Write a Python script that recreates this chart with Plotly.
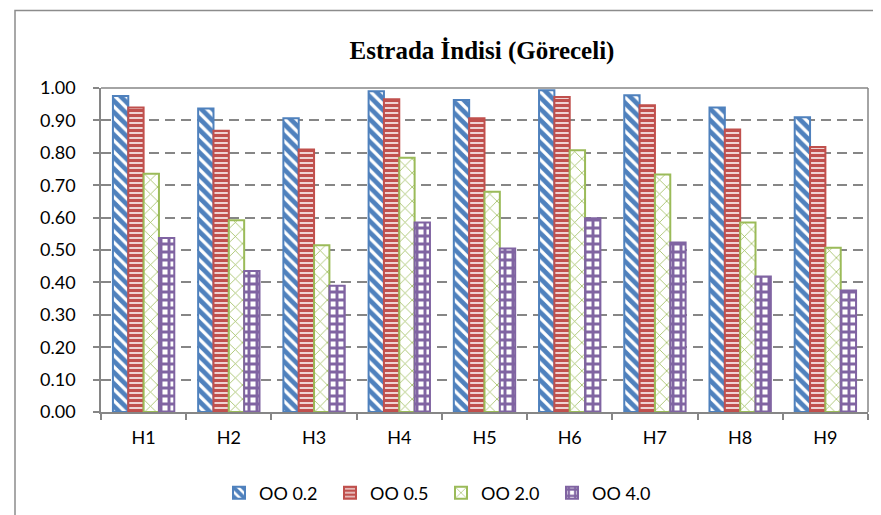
import plotly.graph_objects as go

categories = ["H1", "H2", "H3", "H4", "H5", "H6", "H7", "H8", "H9"]
oo_02 = [0.975, 0.937, 0.907, 0.990, 0.963, 0.993, 0.978, 0.940, 0.910]
oo_05 = [0.940, 0.868, 0.810, 0.965, 0.907, 0.972, 0.947, 0.872, 0.818]
oo_20 = [0.735, 0.592, 0.515, 0.785, 0.680, 0.808, 0.733, 0.585, 0.507]
oo_40 = [0.537, 0.435, 0.390, 0.585, 0.505, 0.598, 0.523, 0.418, 0.375]
series_names = ["OO 0.2", "OO 0.5", "OO 2.0", "OO 4.0"]
y_ticks = [i / 10 for i in range(11)]

colors = ["#4F81BD", "#C0504D", "#9BBB59", "#8064A2"]
patterns = [
    dict(shape="\\", size=8, solidity=0.6),
    dict(shape="-", size=5, solidity=0.7),
    dict(shape="x", size=10, solidity=0.15),
    dict(shape="+", size=8, solidity=0.6),
]

fig = go.Figure()
for name, vals, col, pat in zip(series_names, [oo_02, oo_05, oo_20, oo_40], colors, patterns):
    fig.add_trace(go.Bar(
        x=categories, y=vals, name=name,
        marker=dict(
            color="white",
            line=dict(color=col, width=2),
            pattern=dict(shape=pat["shape"], fgcolor=col, bgcolor="white", fgopacity=1,
                         size=pat["size"], solidity=pat["solidity"], fillmode="replace"),
        ),
    ))

fig.update_layout(
    width=881, height=515,
    margin=dict(l=93, r=21, t=80, b=107),
    paper_bgcolor="white", plot_bgcolor="white",
    barmode="group", bargap=0.28, bargroupgap=0,
    title=dict(text="<b>Estrada İndisi (Göreceli)</b>", x=474 / 881, xanchor="center",
               y=1 - 42 / 515, yanchor="middle",
               font=dict(family="Liberation Serif", size=25, color="black")),
    font=dict(family="Lato", size=18, color="black"),
    legend=dict(orientation="h", x=(211 - 93) / 767, xanchor="left", y=-0.25, yanchor="middle",
                font=dict(family="Lato", size=18), itemwidth=30, traceorder="normal",
                entrywidth=66, entrywidthmode="pixels"),
    showlegend=True,
)
fig.update_xaxes(
    showline=True, linecolor="#868686", linewidth=1.5, mirror=False,
    ticks="outside", tickson="boundaries", ticklen=6, tickcolor="#868686", tickwidth=1.5,
    ticklabelstandoff=9, showgrid=False,
)
fig.update_yaxes(
    range=[0, 1.0], tickvals=y_ticks, tickformat=".2f",
    showline=True, linecolor="#868686", linewidth=1.5,
    ticks="outside", ticklen=6, tickcolor="#868686", tickwidth=1.5,
    ticklabelstandoff=14,
    showgrid=True, gridcolor="#868686", gridwidth=1.5, griddash="10px,6px",
    zeroline=False,
)
# plot area top and right border
fig.add_shape(type="line", xref="paper", yref="paper", x0=0, x1=1, y0=1, y1=1,
              line=dict(color="#868686", width=1.5))
fig.add_shape(type="line", xref="paper", yref="paper", x0=1, x1=1, y0=0, y1=1,
              line=dict(color="#868686", width=1.5))
# outer chart border
fig.add_shape(type="rect", xref="paper", yref="paper",
              x0=(7 - 93) / 767, x1=(895 - 93) / 767,
              y0=(408 - 514) / 328, y1=(408 - 1.5) / 328,
              line=dict(color="#8c8c8c", width=1.5), layer="below")

fig.write_html("out.html")
